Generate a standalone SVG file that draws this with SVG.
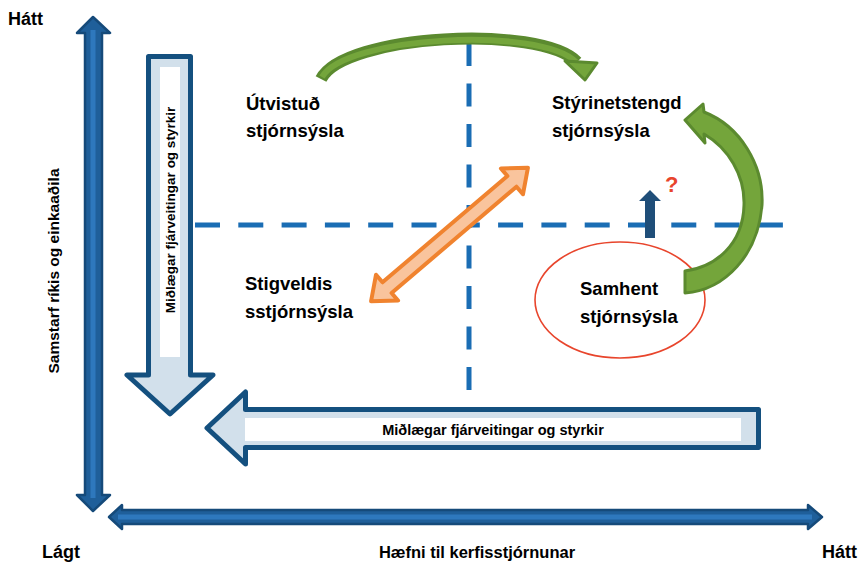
<svg xmlns="http://www.w3.org/2000/svg" width="863" height="563" viewBox="0 0 863 563">
<style>
.t{font-family:"Liberation Sans",Arial,sans-serif;font-weight:bold;fill:#000}
.lbl{font-size:18.5px}
.ax{font-size:18px}
.flow{fill:#d2e0eb;stroke:#14507f;stroke-width:5;stroke-linejoin:round}
.axis{fill:#1f5f9a;stroke:#154a7a;stroke-width:2.5;stroke-linejoin:round}
.dash{stroke:#1a6db4;stroke-width:5;fill:none}
.grn{fill:#74a53b;stroke:#5b8a2f;stroke-width:3;stroke-linejoin:round}
</style>
<rect width="863" height="563" fill="#fff"/>
<g id="axes">
<polygon class="axis" points="93,17 110,33 102,33 102,495 110,495 93,511 77,495 85,495 85,33 77,33"/>
<line x1="93" y1="30" x2="93" y2="498" stroke="#2e78bd" stroke-width="5"/>
<polygon class="axis" points="109,517 122,505 122,510 808,510 808,505 822,517 808,529 808,524 122,524 122,529"/>
<line x1="118" y1="517" x2="812" y2="517" stroke="#2e78bd" stroke-width="5"/>
<text class="t ax" x="8" y="25">Hátt</text>
<text class="t ax" x="42" y="558">Lágt</text>
<text class="t ax" x="822" y="558">Hátt</text>
<text class="t" x="477" y="558" font-size="16.5" text-anchor="middle">Hæfni til kerfisstjórnunar</text>
<text class="t" transform="translate(59,271) rotate(-90)" font-size="15.5" text-anchor="middle">Samstarf ríkis og einkaaðila</text>
</g>
<g id="connectors">
<line class="dash" x1="195" y1="225" x2="783" y2="225" stroke-dasharray="25 18.3"/>
<line class="dash" x1="469" y1="43" x2="469" y2="390" stroke-dasharray="23 17.5"/>
</g>
<g id="down-flow">
<polygon class="flow" points="148.5,56.5 190.5,56.5 190.5,375 213,375 170,414 127,375 148.5,375"/>
<rect x="160" y="67" width="20" height="290" fill="#fff"/>
<text class="t" transform="translate(175,210) rotate(-90)" font-size="13.5" text-anchor="middle">Miðlægar fjárveitingar og styrkir</text>
</g>
<g id="left-flow">
<polygon class="flow" points="207,428 245.5,392 245.5,409.5 758.5,409.5 758.5,447.5 245.5,447.5 245.5,464"/>
<rect x="245" y="418" width="496" height="23" fill="#fff"/>
<text class="t" x="493" y="435" font-size="14.5" text-anchor="middle">Miðlægar fjárveitingar og styrkir</text>
</g>
<g id="node-utvistud">
<text class="t lbl" x="246" y="110">Útvistuð</text>
<text class="t lbl" x="246" y="137">stjórnsýsla</text>
</g>
<g id="node-styrinet">
<text class="t lbl" x="552" y="109">Stýrinetstengd</text>
<text class="t lbl" x="552" y="137">stjórnsýsla</text>
</g>
<g id="node-stigveldis">
<text class="t lbl" x="245" y="290">Stigveldis</text>
<text class="t lbl" x="245" y="318">sstjórnsýsla</text>
</g>
<g id="node-samhent">
<ellipse cx="620" cy="300" rx="85" ry="58" fill="none" stroke="#e8452c" stroke-width="1.6"/>
<text class="t lbl" x="580" y="295">Samhent</text>
<text class="t lbl" x="580" y="323">stjórnsýsla</text>
</g>
<g id="arrows">
<g transform="translate(449.5,234.5) rotate(-40.4)">
<polygon points="-103,0 -82,-17 -82,-7 82,-7 82,-17 103,0 82,17 82,7 -82,7 -82,17" fill="#f9c49d" stroke="#f0832f" stroke-width="4" stroke-linejoin="round"/>
</g>
<path d="M 321 79 C 344 34, 540 24, 577 62" fill="none" stroke="#5b8a2f" stroke-width="12"/>
<path d="M 322 77 C 345 36, 540 26, 576 62" fill="none" stroke="#74a53b" stroke-width="6"/>
<polygon class="grn" points="565,61 597,63 585,80"/>
<path class="grn" d="M 704 112 C 740 126, 764 165, 762 205 C 758 255, 725 290, 685 293 L 685 271 C 715 267, 743 245, 744 205 C 745 175, 728 148, 704 134 L 705 143 L 685 120 L 703 104 Z"/>
<polygon points="645,238 645,201 639,201 650,190 661,201 655,201 655,238" fill="#1f4e79"/>
<text class="t" x="665" y="192" font-size="22" style="fill:#e8452c">?</text>
</g>
</svg>
